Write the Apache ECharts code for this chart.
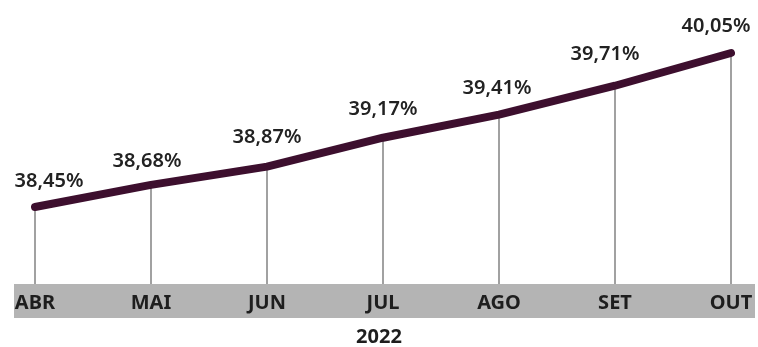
<!DOCTYPE html>
<html><head><meta charset="utf-8">
<script src="https://cdn.jsdelivr.net/npm/echarts@6/dist/echarts.min.js"></script>
<style>html,body{margin:0;padding:0;background:#fff}#c{width:758px;height:347px}</style>
</head><body><div id="c"></div>
<script>
const months = ['ABR','MAI','JUN','JUL','AGO','SET','OUT'];
const values = [38.45, 38.68, 38.87, 39.17, 39.41, 39.71, 40.05];
const yearLabel = '2022';
const labelOffsets = [[14, 1], [-4, 3], [0, -3], [0, -2], [-2, 0], [-10, -5], [-15, 0]];

const chart = echarts.init(document.getElementById('c'));
const fmt = v => v.toFixed(2).replace('.', ',') + '%';
const lineData = values.map((v, i) => ({value: v, label: {offset: labelOffsets[i]}}));
chart.setOption({
  animation: false,
  grid: {left: 35, right: 27, top: 30, bottom: 63},
  graphic: [
    {type: 'rect', z: 0, shape: {x: 14, y: 284, width: 741, height: 34}, style: {fill: '#b4b4b4'}},
    {type: 'text', z: 5, left: 'center', top: 327, style: {text: yearLabel, font: 'bold 20px "Noto Sans"', fill: '#1e1e1e'}}
  ],
  xAxis: {
    type: 'category', data: months, boundaryGap: false,
    axisLine: {show: false}, axisTick: {show: false}, splitLine: {show: false},
    axisLabel: {color: '#1e1e1e', fontFamily: 'Noto Sans', fontWeight: 'bold', fontSize: 20, margin: 9}
  },
  yAxis: {type: 'value', min: 37.65, max: 40.289, show: false},
  series: [
    {type: 'bar', data: values, barWidth: 1, itemStyle: {color: '#444'}, z: 1, silent: true},
    {type: 'line', data: lineData, symbol: 'circle', symbolSize: 1, showSymbol: true, z: 3,
     itemStyle: {color: '#3d0f2e'},
     lineStyle: {color: '#3d0f2e', width: 8, cap: 'round', join: 'round'},
     label: {show: true, position: 'top', distance: 16, formatter: p => fmt(p.value),
       color: '#222', fontFamily: 'Noto Sans', fontWeight: 600, fontSize: 20}}
  ]
});
</script></body></html>
